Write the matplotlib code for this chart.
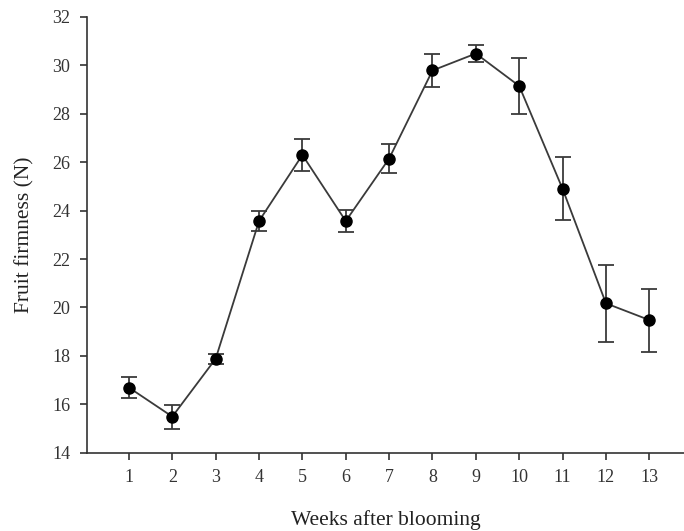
import matplotlib.pyplot as plt

weeks = [1, 2, 3, 4, 5, 6, 7, 8, 9, 10, 11, 12, 13]
firmness = [16.69, 15.49, 17.88, 23.57, 26.30, 23.57, 26.15, 29.79, 30.49, 29.15, 24.90, 20.17, 19.48]
errors = [0.45, 0.50, 0.20, 0.40, 0.65, 0.45, 0.60, 0.67, 0.35, 1.15, 1.30, 1.60, 1.30]
yticks = [14, 16, 18, 20, 22, 24, 26, 28, 30, 32]

plt.rcParams['font.family'] = ['Liberation Serif', 'DejaVu Serif']

fig = plt.figure(figsize=(6.84, 5.31), dpi=100)
ax = fig.add_axes([0.127, 0.1475, 0.873, 0.8205])

ax.errorbar(weeks, firmness, yerr=errors, fmt='-o', color='#3a3a3a', lw=1.3,
            mfc='black', mec='black', ms=8, ecolor='#3a3a3a', elinewidth=1.3,
            capsize=6, capthick=1.3, zorder=3)

ax.set_xlim(0.03, 13.8)
ax.set_ylim(14, 32)
ax.set_xticks(weeks)
ax.set_yticks(yticks)
ax.spines['top'].set_visible(False)
ax.spines['right'].set_visible(False)
for s in ['left', 'bottom']:
    ax.spines[s].set_color('#333333')
    ax.spines[s].set_linewidth(1.2)
ax.tick_params(direction='out', length=5, width=1.2, color='#333333',
               labelsize=13, labelcolor='#333333', pad=7)

ax.set_ylabel('Fruit firmness (N)', fontsize=15.5, color='#222222', labelpad=13)
ax.set_xlabel('Weeks after blooming', fontsize=15.5, color='#222222', labelpad=17)

fig.savefig('out.png', dpi=100)
